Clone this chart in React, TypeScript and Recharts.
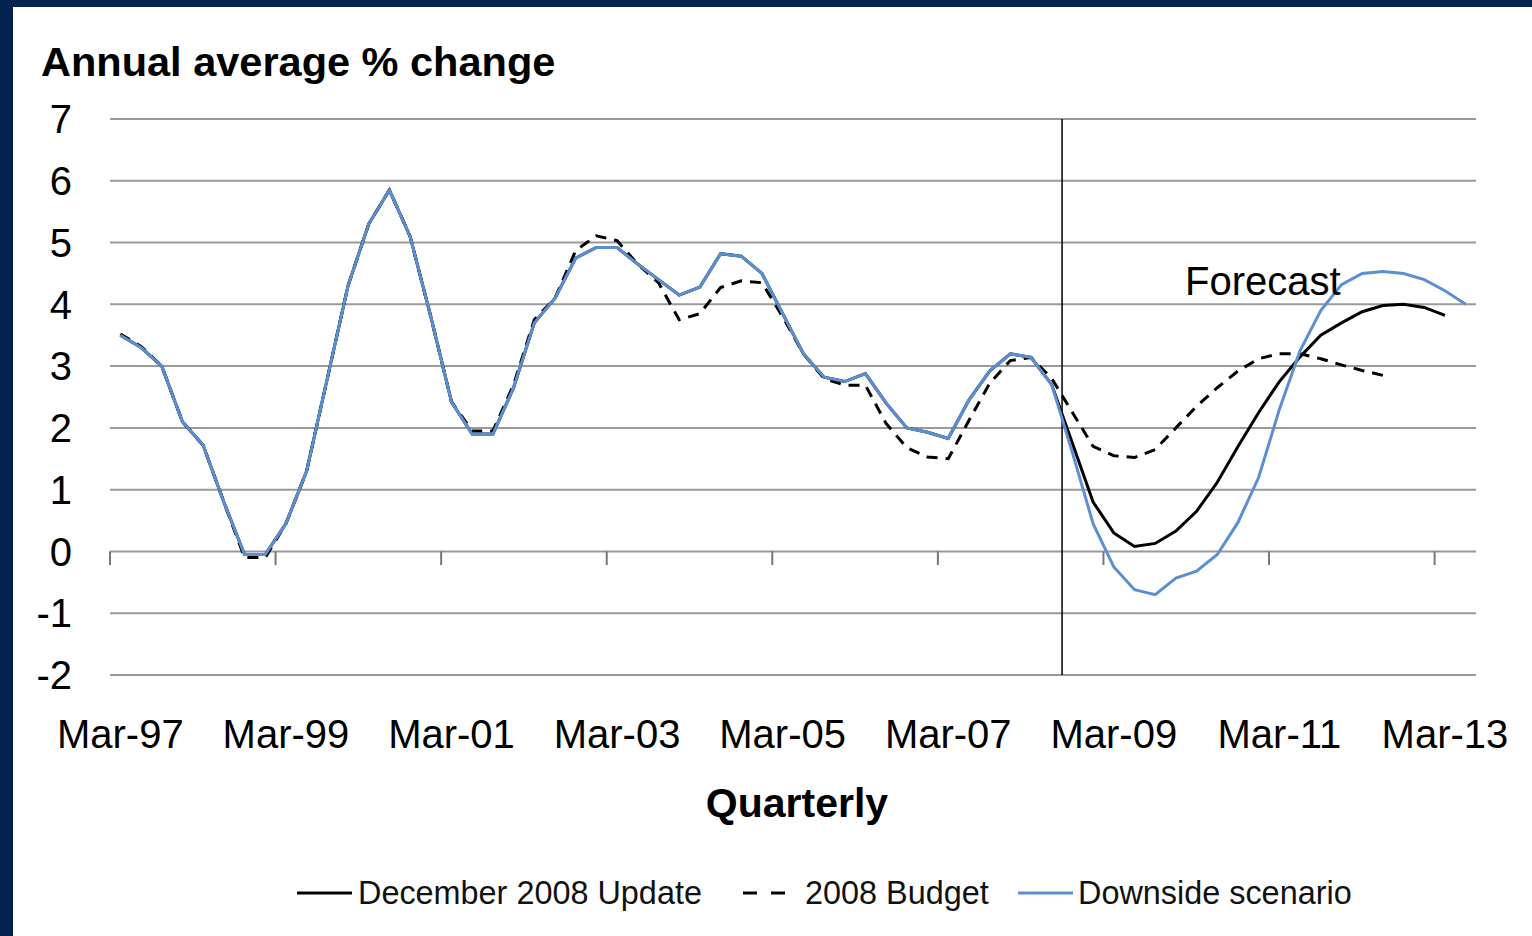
import { LineChart, Line, XAxis, YAxis, CartesianGrid, ReferenceLine } from "recharts";

// quarterly categories, Mar-97 .. Jun-13
const quarters = [
  "Mar-97", "Jun-97", "Sep-97", "Dec-97", "Mar-98", "Jun-98", "Sep-98", "Dec-98",
  "Mar-99", "Jun-99", "Sep-99", "Dec-99", "Mar-00", "Jun-00", "Sep-00", "Dec-00",
  "Mar-01", "Jun-01", "Sep-01", "Dec-01", "Mar-02", "Jun-02", "Sep-02", "Dec-02",
  "Mar-03", "Jun-03", "Sep-03", "Dec-03", "Mar-04", "Jun-04", "Sep-04", "Dec-04",
  "Mar-05", "Jun-05", "Sep-05", "Dec-05", "Mar-06", "Jun-06", "Sep-06", "Dec-06",
  "Mar-07", "Jun-07", "Sep-07", "Dec-07", "Mar-08", "Jun-08", "Sep-08", "Dec-08",
  "Mar-09", "Jun-09", "Sep-09", "Dec-09", "Mar-10", "Jun-10", "Sep-10", "Dec-10",
  "Mar-11", "Jun-11", "Sep-11", "Dec-11", "Mar-12", "Jun-12", "Sep-12", "Dec-12",
  "Mar-13", "Jun-13",
];

const tickLabels = ["Mar-97", "Mar-99", "Mar-01", "Mar-03", "Mar-05", "Mar-07", "Mar-09", "Mar-11", "Mar-13"];
const yTicks = [-2, -1, 0, 1, 2, 3, 4, 5, 6, 7];
const forecastStart = "Sep-08";

const december2008Update = [
  3.5, 3.3, 3.0, 2.1, 1.72, 0.8, -0.05, -0.05, 0.45, 1.3, 2.8, 4.3, 5.3, 5.85, 5.1, 3.8,
  2.42, 1.9, 1.9, 2.65, 3.7, 4.1, 4.75, 4.92, 4.92, 4.65, 4.4, 4.15, 4.28, 4.82, 4.78, 4.5,
  3.85, 3.2, 2.82, 2.75, 2.88, 2.4, 2.0, 1.93, 1.83, 2.45, 2.92, 3.2, 3.14, 2.7,
  1.75, 0.8, 0.3, 0.08, 0.13, 0.33, 0.65, 1.12, 1.7, 2.25, 2.75, 3.15, 3.5, 3.7, 3.88, 3.98,
  4.0, 3.95, 3.82,
];

const budget2008 = [
  3.52, 3.32, 3.0, 2.1, 1.72, 0.8, -0.1, -0.1, 0.45, 1.3, 2.8, 4.3, 5.3, 5.85, 5.1, 3.8,
  2.42, 1.95, 1.95, 2.7, 3.75, 4.1, 4.87, 5.11, 5.03, 4.65, 4.35, 3.75, 3.85, 4.27, 4.38, 4.35,
  3.8, 3.2, 2.8, 2.69, 2.69, 2.07, 1.68, 1.53, 1.5, 2.12, 2.72, 3.09, 3.14, 2.8,
  2.25, 1.7, 1.55, 1.52, 1.65, 2.0, 2.35, 2.65, 2.92, 3.12, 3.2, 3.2, 3.12, 3.02, 2.93, 2.85,
];

const downsideScenario = [
  3.5, 3.3, 3.0, 2.1, 1.72, 0.8, -0.05, -0.05, 0.45, 1.3, 2.8, 4.3, 5.3, 5.85, 5.1, 3.8,
  2.42, 1.9, 1.9, 2.65, 3.7, 4.1, 4.75, 4.92, 4.92, 4.65, 4.4, 4.15, 4.28, 4.82, 4.78, 4.5,
  3.85, 3.2, 2.82, 2.75, 2.88, 2.4, 2.0, 1.93, 1.83, 2.45, 2.92, 3.2, 3.14, 2.7,
  1.6, 0.45, -0.25, -0.62, -0.7, -0.43, -0.32, -0.05, 0.47, 1.2, 2.3, 3.25, 3.9, 4.32, 4.5, 4.53,
  4.5, 4.4, 4.22, 4.0,
];

const data = quarters.map((q, i) => ({
  i,
  q,
  update: december2008Update[i] ?? null,
  budget: budget2008[i] ?? null,
  downside: downsideScenario[i] ?? null,
}));

const tickIdx = tickLabels.map((l) => quarters.indexOf(l));
const forecastX = quarters.indexOf(forecastStart) - 0.5;

const FONT = "'Liberation Sans', Arial, Helvetica, sans-serif";
const NAVY = "#03234f";
const BLUE = "#5b8fd2";
const GRID = "#9a9a9a";

export default function App() {
  return (
    <div style={{ position: "absolute", left: 0, top: 0, width: 1532, height: 936, background: NAVY, overflow: "hidden", fontFamily: FONT }}>
      <div style={{ position: "absolute", left: 13, top: 7, right: 0, bottom: 0, background: "#fff" }} />
      <div style={{ position: "absolute", left: 0, top: 0 }}>
        <LineChart width={1532} height={936} data={data} margin={{ top: 119, right: 56, left: 30, bottom: 201 }}>
          <CartesianGrid vertical={false} stroke={GRID} strokeWidth={2} />
          <XAxis
            dataKey="i"
            type="number"
            domain={[-0.5, quarters.length - 0.5]}
            ticks={tickIdx}
            tickFormatter={(v: number) => quarters[v]}
            axisLine={false}
            tickLine={false}
            tickSize={6}
            tickMargin={39}
            height={60}
            interval={0}
            tick={{ fontSize: 40, fill: "#000", fontFamily: FONT }}
          />
          <YAxis
            domain={[-2, 7]}
            ticks={yTicks}
            axisLine={false}
            tickLine={false}
            tickSize={6}
            tickMargin={32}
            width={80}
            interval={0}
            tick={{ fontSize: 40, fill: "#000", fontFamily: FONT }}
          />
          {tickIdx.map((t) => (
            <ReferenceLine
              key={t}
              segment={[{ x: t - 0.5, y: 0 }, { x: t - 0.5, y: -0.22 }]}
              stroke="#777"
              strokeWidth={2}
            />
          ))}
          <ReferenceLine x={forecastX} stroke="#000" strokeWidth={1.5} />
          <Line dataKey="budget" stroke="#000" strokeWidth={3} strokeDasharray="11 8" dot={false} activeDot={false} isAnimationActive={false} />
          <Line dataKey="update" stroke="#000" strokeWidth={3} dot={false} activeDot={false} isAnimationActive={false} />
          <Line dataKey="downside" stroke={BLUE} strokeWidth={3} dot={false} activeDot={false} isAnimationActive={false} />
        </LineChart>
      </div>

      <div style={{ position: "absolute", left: 41, top: 41, fontSize: 41.5, fontWeight: "bold", lineHeight: 1, color: "#000", whiteSpace: "nowrap" }}>
        Annual average % change
      </div>
      <div style={{ position: "absolute", left: 597, width: 400, top: 783, textAlign: "center", fontSize: 41, fontWeight: "bold", lineHeight: 1, color: "#000" }}>
        Quarterly
      </div>
      <div style={{ position: "absolute", left: 1185, top: 261, fontSize: 40, lineHeight: 1, color: "#000", whiteSpace: "nowrap" }}>
        Forecast
      </div>

      <svg style={{ position: "absolute", left: 0, top: 880 }} width={1532} height={26}>
        <line x1={297} x2={352} y1={13} y2={13} stroke="#000" strokeWidth={3} />
        <line x1={743} x2={787} y1={13} y2={13} stroke="#000" strokeWidth={3} strokeDasharray="14 14" />
        <line x1={1018} x2={1073} y1={13} y2={13} stroke={BLUE} strokeWidth={3} />
      </svg>
      <div style={{ position: "absolute", left: 358, top: 877, fontSize: 32.4, lineHeight: 1, color: "#111", whiteSpace: "nowrap" }}>December 2008 Update</div>
      <div style={{ position: "absolute", left: 805, top: 877, fontSize: 32.4, lineHeight: 1, color: "#111", whiteSpace: "nowrap" }}>2008 Budget</div>
      <div style={{ position: "absolute", left: 1078, top: 877, fontSize: 32.4, lineHeight: 1, color: "#111", whiteSpace: "nowrap" }}>Downside scenario</div>
    </div>
  );
}
